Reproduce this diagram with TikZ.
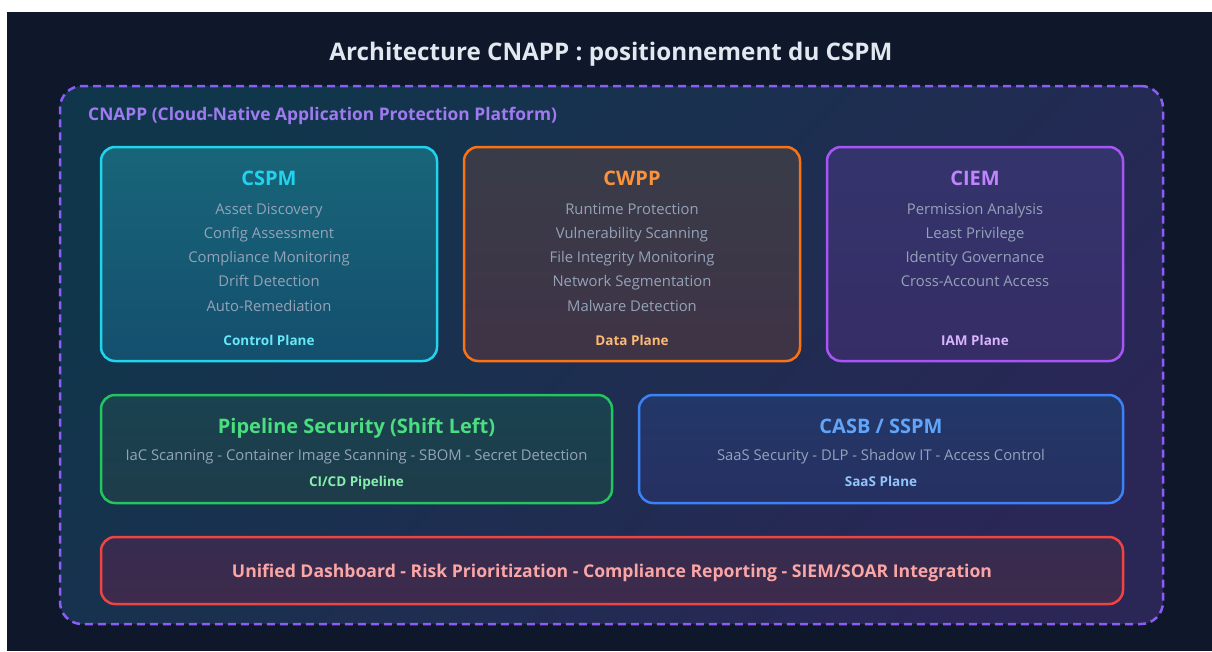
\documentclass[tikz,border=0pt]{standalone}
\usepackage{fontspec}
\setmainfont{Open Sans}
\definecolor{bgdark}{HTML}{0F172A}
\definecolor{titlecol}{HTML}{E2E8F0}
\definecolor{itemcol}{HTML}{94A3B8}
\definecolor{outerA}{HTML}{10364B}
\definecolor{outerB}{HTML}{2A2656}
\definecolor{outerline}{HTML}{8B5CF6}
\definecolor{outerlabel}{HTML}{9F7AF0}
\definecolor{cspmline}{HTML}{22D3EE}
\definecolor{cspmA}{HTML}{186579}
\definecolor{cspmB}{HTML}{144F6E}
\definecolor{cspmtag}{HTML}{67E8F9}
\definecolor{cwppline}{HTML}{F97316}
\definecolor{cwppA}{HTML}{393C48}
\definecolor{cwppB}{HTML}{3F3346}
\definecolor{cwpphead}{HTML}{FB923C}
\definecolor{cwpptag}{HTML}{FDBA74}
\definecolor{ciemline}{HTML}{A855F7}
\definecolor{ciemA}{HTML}{34346C}
\definecolor{ciemB}{HTML}{362D66}
\definecolor{ciemhead}{HTML}{C084FC}
\definecolor{ciemtag}{HTML}{D8B4FE}
\definecolor{pipeline}{HTML}{22C55E}
\definecolor{pipeA}{HTML}{1A424F}
\definecolor{pipeB}{HTML}{1E3C4A}
\definecolor{pipehead}{HTML}{4ADE80}
\definecolor{pipetag}{HTML}{86EFAC}
\definecolor{casbline}{HTML}{3B82F6}
\definecolor{casbA}{HTML}{223868}
\definecolor{casbB}{HTML}{263062}
\definecolor{casbhead}{HTML}{60A5FA}
\definecolor{casbtag}{HTML}{93C5FD}
\definecolor{uniline}{HTML}{EF4444}
\definecolor{uniA}{HTML}{352C4F}
\definecolor{uniB}{HTML}{3E2A4C}
\definecolor{unitext}{HTML}{FCA5A5}
\begin{document}
\begin{tikzpicture}[x=1pt,y=-1pt,
  panel/.style={draw, line width=2.5pt, rounded corners=14pt, inner sep=0pt,
    shading angle=45},
  pagetitle/.style={font=\bfseries\fontsize{24.2}{29}\selectfont, text=titlecol,
    anchor=base, inner sep=0pt},
  grouplabel/.style={font=\bfseries\fontsize{17.4}{21}\selectfont, text=outerlabel,
    anchor=base west, inner sep=0pt},
  head/.style={font=\bfseries\fontsize{20}{24}\selectfont, anchor=base, inner sep=0pt},
  item/.style={font=\fontsize{14.8}{18}\selectfont, text=itemcol, anchor=base, inner sep=0pt},
  tag/.style={font=\bfseries\fontsize{13.5}{16}\selectfont, anchor=base, inner sep=0pt},
  banner/.style={font=\bfseries\fontsize{17.6}{21}\selectfont, text=unitext, anchor=base,
    inner sep=0pt}]
\useasboundingbox (0,0) rectangle (1212,651);
\fill[white] (0,0) rectangle (1212,651);
\fill[bgdark] (7,12) rectangle (1212,651);

% page title
\node[pagetitle] (title) at (611,60) {Architecture CNAPP : positionnement du CSPM};

% CNAPP platform frame
\node[draw=outerline, line width=2.5pt, dash pattern=on 8pt off 5pt,
  rounded corners=22pt, inner sep=0pt, top color=outerA, bottom color=outerB,
  shading angle=45, minimum width=1103pt, minimum height=538pt]
  (cnapp) at (611.5,355) {};
\node[grouplabel] (cnapplabel) at (88,120)
  {CNAPP (Cloud-Native Application Protection Platform)};

% CSPM
\node[panel, draw=cspmline, top color=cspmA, bottom color=cspmB,
  minimum width=336pt, minimum height=214pt] (cspm) at (269,254) {};
\node[head, text=cspmline] (cspmh) at (269,185) {CSPM};
\node[item] (cspm1) at (269,214) {Asset Discovery};
\node[item] (cspm2) at (269,238.3) {Config Assessment};
\node[item] (cspm3) at (269,262.6) {Compliance Monitoring};
\node[item] (cspm4) at (269,286.9) {Drift Detection};
\node[item] (cspm5) at (269,311.2) {Auto-Remediation};
\node[tag, text=cspmtag] (cspmt) at (269,345.5) {Control Plane};

% CWPP
\node[panel, draw=cwppline, top color=cwppA, bottom color=cwppB,
  minimum width=336pt, minimum height=214pt] (cwpp) at (632,254) {};
\node[head, text=cwpphead] (cwpph) at (632,185) {CWPP};
\node[item] (cwpp1) at (632,214) {Runtime Protection};
\node[item] (cwpp2) at (632,238.3) {Vulnerability Scanning};
\node[item] (cwpp3) at (632,262.6) {File Integrity Monitoring};
\node[item] (cwpp4) at (632,286.9) {Network Segmentation};
\node[item] (cwpp5) at (632,311.2) {Malware Detection};
\node[tag, text=cwpptag] (cwppt) at (632,345.5) {Data Plane};

% CIEM
\node[panel, draw=ciemline, top color=ciemA, bottom color=ciemB,
  minimum width=296pt, minimum height=214pt] (ciem) at (975,254) {};
\node[head, text=ciemhead] (ciemh) at (975,185) {CIEM};
\node[item] (ciem1) at (975,214) {Permission Analysis};
\node[item] (ciem2) at (975,238.3) {Least Privilege};
\node[item] (ciem3) at (975,262.6) {Identity Governance};
\node[item] (ciem4) at (975,286.9) {Cross-Account Access};
\node[tag, text=ciemtag] (ciemt) at (975,345.5) {IAM Plane};

% Pipeline security
\node[panel, draw=pipeline, top color=pipeA, bottom color=pipeB,
  minimum width=511pt, minimum height=108pt] (pipe) at (356.5,449) {};
\node[head, text=pipehead] (pipeh) at (356.5,433) {Pipeline Security (Shift Left)};
\node[item] (pipe1) at (356.5,460)
  {IaC Scanning - Container Image Scanning - SBOM - Secret Detection};
\node[tag, text=pipetag] (pipet) at (356.5,486.5) {CI/CD Pipeline};

% CASB / SSPM
\node[panel, draw=casbline, top color=casbA, bottom color=casbB,
  minimum width=484pt, minimum height=108pt] (casb) at (881,449) {};
\node[head, text=casbhead] (casbh) at (881,433) {CASB / SSPM};
\node[item] (casb1) at (881,460) {SaaS Security - DLP - Shadow IT - Access Control};
\node[tag, text=casbtag] (casbt) at (881,486.5) {SaaS Plane};

% unified layer
\node[panel, draw=uniline, top color=uniA, bottom color=uniB,
  minimum width=1022pt, minimum height=67pt] (uni) at (612,570.5) {};
\node[banner] (unit) at (612,577)
  {Unified Dashboard - Risk Prioritization - Compliance Reporting - SIEM/SOAR Integration};
\end{tikzpicture}
\end{document}
